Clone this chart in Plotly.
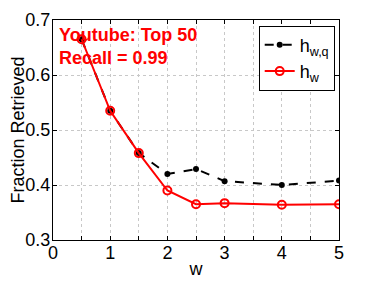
import plotly.graph_objects as go

w = [0.5, 1, 1.5, 2, 2.5, 3, 4, 5]
h_wq = [0.665, 0.535, 0.458, 0.420, 0.429, 0.407, 0.400, 0.408]
h_w = [0.665, 0.535, 0.458, 0.390, 0.365, 0.367, 0.364, 0.365]

fig = go.Figure()
fig.add_trace(go.Scatter(x=w, y=h_wq, mode="lines+markers", name="h<sub>w,q</sub>",
                         line=dict(color="black", width=2, dash="dash"),
                         marker=dict(color="black", size=6, symbol="circle")))
fig.add_trace(go.Scatter(x=w, y=h_w, mode="lines+markers", name="h<sub>w</sub>",
                         line=dict(color="#ff0000", width=2),
                         marker=dict(color="#ff0000", size=8, symbol="circle-open", line=dict(width=2))))

fig.add_annotation(x=0.015, y=0.985, xref="paper", yref="paper", xanchor="left", yanchor="top",
                   text="<b>Youtube: Top 50</b><br><b>Recall = 0.99</b>", showarrow=False, align="left",
                   font=dict(family="Liberation Sans, Arial", size=18, color="#ff0000"))

fig.update_layout(
    width=374, height=281,
    margin=dict(l=45, r=43, t=12, b=49),
    paper_bgcolor="white", plot_bgcolor="white",
    font=dict(family="Liberation Sans, Arial", size=18, color="black"),
    legend=dict(x=0.985, y=0.975, xanchor="right", yanchor="top", bgcolor="white",
                bordercolor="black", borderwidth=1, font=dict(size=18), tracegroupgap=0,
                itemwidth=30),
    showlegend=True,
)
fig.update_xaxes(range=[0, 5], dtick=1, tick0=0, showline=True, linecolor="black", mirror="ticks",
                 ticks="inside", ticklen=4, tickcolor="black", showgrid=True, gridcolor="#c8c8c8",
                 griddash="dot", zeroline=False, automargin=False, ticklabelstandoff=-4,
                 minor=dict(dtick=0.5, showgrid=True, gridcolor="#c8c8c8", griddash="dot",
                            ticks="inside", ticklen=4, tickcolor="black"),
                 title=dict(text="w", standoff=0, font=dict(size=18)))
fig.update_yaxes(range=[0.3, 0.7], dtick=0.1, tickformat=".1f", showline=True, linecolor="black",
                 mirror="ticks", ticks="inside", ticklen=4, tickcolor="black", showgrid=True,
                 gridcolor="#c8c8c8", griddash="dot", zeroline=False, automargin=False,
                 ticklabelstandoff=-2,
                 title=dict(text="Fraction Retrieved", standoff=0, font=dict(size=18)))

fig.write_html("out.html")
